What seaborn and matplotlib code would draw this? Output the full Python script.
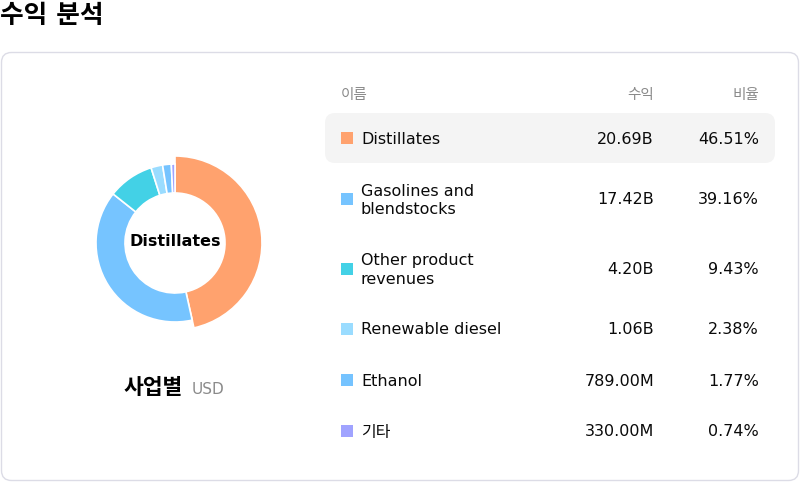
import seaborn as sns
import matplotlib.pyplot as plt
from matplotlib.patches import FancyBboxPatch, Rectangle

# datos del gráfico
nombres = ["Distillates", "Gasolines and\nblendstocks", "Other product\nrevenues",
           "Renewable diesel", "Ethanol", "기타"]
ingresos = [20.69, 17.42, 4.20, 1.06, 0.789, 0.330]  # miles de millones USD
ingresos_txt = ["20.69B", "17.42B", "4.20B", "1.06B", "789.00M", "330.00M"]
porcentajes = ["46.51%", "39.16%", "9.43%", "2.38%", "1.77%", "0.74%"]
colores = ["#FFA26E", "#76C4FF", "#43D1E6", "#9ADCFF", "#75C3FF", "#A0A3FF"]

sns.set_theme(style="white")
plt.rcParams['font.family'] = ['DejaVu Sans', 'Noto Sans CJK KR']

W, H = 800, 482
fig = plt.figure(figsize=(W / 100, H / 100), dpi=100)

# eje de fondo en píxeles
bg = fig.add_axes([0, 0, 1, 1])
bg.set_xlim(0, W)
bg.set_ylim(H, 0)
bg.axis("off")

bg.text(0, 16, "수익 분석", fontsize=18.5, fontweight="bold", color="black", va="center", ha="left")

# tarjeta
bg.add_patch(FancyBboxPatch((1.5, 52.5), 797, 428, boxstyle="round,pad=0,rounding_size=10",
                            facecolor="white", edgecolor="#dcdce6", lw=1))

# fila resaltada
bg.add_patch(FancyBboxPatch((325, 113), 450, 50, boxstyle="round,pad=0,rounding_size=10",
                            facecolor="#f4f4f4", edgecolor="none"))

# cabecera
gris = "#8a8a8a"
bg.text(341, 95, "이름", fontsize=10.5, color=gris, va="center", ha="left")
bg.text(654, 95, "수익", fontsize=10.5, color=gris, va="center", ha="right")
bg.text(759, 95, "비율", fontsize=10.5, color=gris, va="center", ha="right")

filas_y = [138, 199, 269, 329, 380, 431]
for y, nombre, val, pct, col in zip(filas_y, nombres, ingresos_txt, porcentajes, colores):
    bg.add_patch(Rectangle((341, y - 6), 12, 12, facecolor=col, edgecolor="none"))
    bg.text(361, y + 1, nombre, fontsize=11.5, color="#0a0a0a", va="center", ha="left", linespacing=1.25)
    bg.text(654, y + 1, val, fontsize=11.5, color="#0a0a0a", va="center", ha="right")
    bg.text(759, y + 1, pct, fontsize=11.5, color="#0a0a0a", va="center", ha="right")

# donut (el primer sector resaltado, más grande)
cx, cy, R = 175, 243, 87
r_out, r_in = 79, 50
ax = fig.add_axes([(cx - R) / W, (H - cy - R) / H, 2 * R / W, 2 * R / H])
wedges, _ = ax.pie(ingresos, colors=colores, startangle=90, counterclock=False, radius=r_out / R,
                   wedgeprops=dict(width=(r_out - r_in) / R, edgecolor="white", linewidth=1.2))
wedges[0].set_radius(1)
wedges[0].set_width((R - r_in) / R)
ax.set_xlim(-1, 1)
ax.set_ylim(-1, 1)
ax.set_aspect("equal")
ax.text(0, 0.02, "Distillates", fontsize=11.5, fontweight="bold", color="black", ha="center", va="center")

bg.text(183, 388, "사업별", fontsize=15.5, fontweight="bold", color="black", va="center", ha="right")
bg.text(192, 389, "USD", fontsize=11, color=gris, va="center", ha="left")

fig.savefig("out.png", dpi=100)
